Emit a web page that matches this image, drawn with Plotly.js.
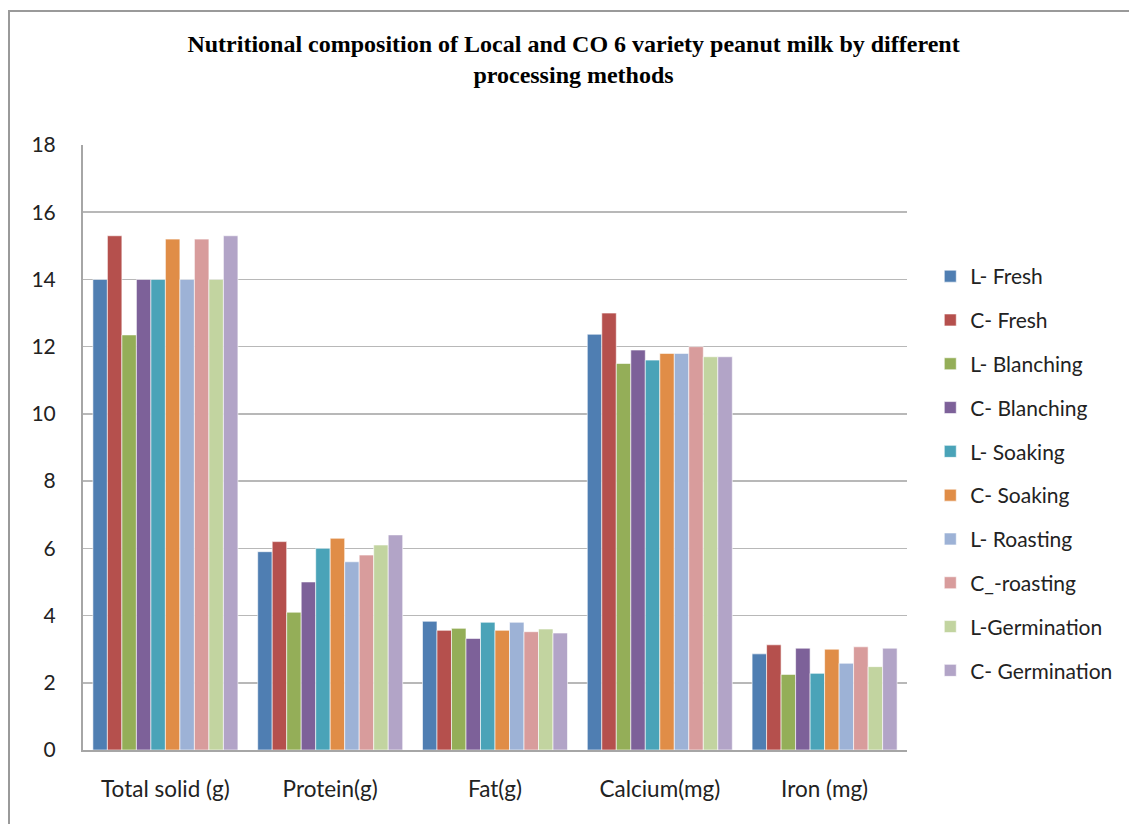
<!DOCTYPE html>
<html><head><meta charset="utf-8">
<script src="https://cdn.plot.ly/plotly-3.0.1.min.js"></script>
<style>
body{margin:0;background:#fff;}
#wrap{position:relative;width:1129px;height:824px;overflow:hidden;}
#chart{position:absolute;left:0;top:0;width:1129px;height:824px;}
#frame{position:absolute;left:8px;top:10px;width:1200px;height:900px;border:2px solid #9a9a9a;pointer-events:none;}
</style></head>
<body><div id="wrap"><div id="chart"></div><div id="frame"></div></div>
<script>
const categories = ["Total solid (g)", "Protein(g)", "Fat(g)", "Calcium(mg)", "Iron (mg)"];
const seriesNames = ["L- Fresh", "C- Fresh", "L- Blanching", "C- Blanching", "L- Soaking", "C- Soaking", "L- Roasting", "C_-roasting", "L-Germination", "C- Germination"];
const lFresh      = [14.0, 5.9, 3.83, 12.37, 2.86];
const cFresh      = [15.3, 6.2, 3.56, 13.0, 3.13];
const lBlanching  = [12.35, 4.1, 3.62, 11.5, 2.25];
const cBlanching  = [14.0, 5.0, 3.32, 11.9, 3.03];
const lSoaking    = [14.0, 6.0, 3.8, 11.6, 2.28];
const cSoaking    = [15.2, 6.3, 3.56, 11.8, 3.0];
const lRoasting   = [14.0, 5.6, 3.8, 11.8, 2.58];
const cRoasting   = [15.2, 5.8, 3.52, 12.0, 3.07];
const lGermination= [14.0, 6.1, 3.6, 11.7, 2.48];
const cGermination= [15.3, 6.4, 3.48, 11.7, 3.03];
const yTicks = [0, 2, 4, 6, 8, 10, 12, 14, 16, 18];

const allSeries = [lFresh, cFresh, lBlanching, cBlanching, lSoaking, cSoaking, lRoasting, cRoasting, lGermination, cGermination];
const colors = ["#4F7EB2", "#B5504D", "#94AE58", "#7D6199", "#4AA3B8", "#E08D47", "#9DB2D6", "#D89C9C", "#C2D4A0", "#B2A4C7"];

const traces = allSeries.map((vals, i) => ({
  type: 'bar',
  name: seriesNames[i],
  x: categories,
  y: vals,
  legendgroup: 'g' + i,
  marker: {color: colors[i], line: {color: 'rgba(255,255,255,0.6)', width: 1}},
  hoverinfo: 'x+y+name'
}));

const layout = {
  width: 1129, height: 824,
  margin: {l: 83, r: 221, t: 145, b: 74},
  paper_bgcolor: '#fff', plot_bgcolor: '#fff',
  barmode: 'group',
  bargap: 0.12, bargroupgap: 0,
  font: {family: 'Lato, Carlito, "Open Sans", sans-serif', color: '#222'},
  title: {
    text: '<b>Nutritional composition of Local and CO 6 variety peanut milk by different<br>processing methods</b>',
    font: {family: '"Liberation Serif", "Times New Roman", serif', size: 24, color: '#000'},
    x: 0.508, xanchor: 'center', y: 0.937, yanchor: 'top'
  },
  xaxis: {
    type: 'category',
    showline: true, linecolor: '#a6a6a6', linewidth: 2,
    showgrid: false, ticks: '',
    tickfont: {size: 22.5, color: '#222'},
    ticklabelstandoff: 18
  },
  yaxis: {
    range: [0, 18], tickvals: yTicks, ticktext: yTicks.map(String),
    showline: true, linecolor: '#a6a6a6', linewidth: 2,
    showgrid: true, gridcolor: '#b8b8b8', gridwidth: 1.5,
    zeroline: false, ticks: '',
    tickfont: {size: 21, color: '#222'},
    ticklabelstandoff: 21
  },
  legend: {
    x: 1.027, xanchor: 'left', y: 0.457, yanchor: 'middle',
    font: {size: 21, color: '#222'},
    traceorder: 'grouped', tracegroupgap: 13.5,
    itemclick: false
  },
  showlegend: true
};

Plotly.newPlot('chart', traces, layout, {displayModeBar: false, staticPlot: true});
</script>
</body></html>
